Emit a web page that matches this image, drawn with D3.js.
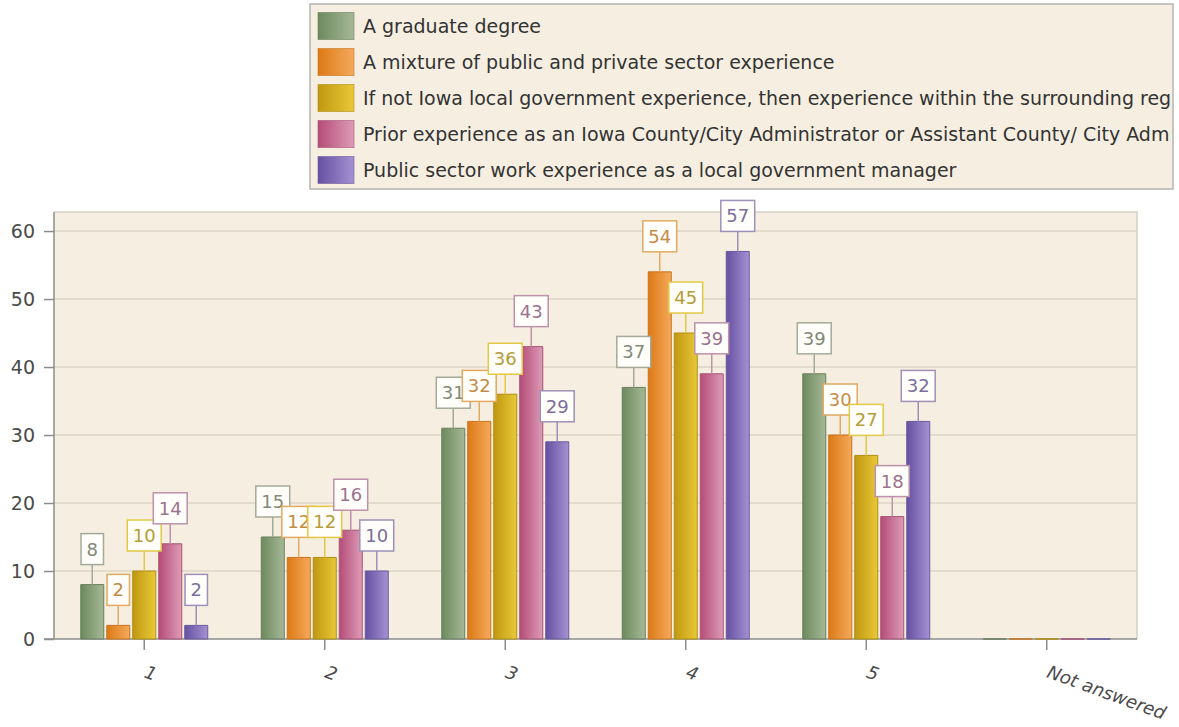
<!DOCTYPE html>
<html>
<head>
<meta charset="utf-8">
<script src="https://cdn.jsdelivr.net/npm/d3@7"></script>
<style>
  html, body { margin: 0; padding: 0; background: #ffffff; }
  svg { display: block; }
</style>
</head>
<body>
<script>
// Survey results: count of responses per rating, for each qualification
const categories = ["1", "2", "3", "4", "5", "Not answered"];
const seriesNames = [
  "A graduate degree",
  "A mixture of public and private sector experience",
  "If not Iowa local government experience, then experience within the surrounding region",
  "Prior experience as an Iowa County/City Administrator or Assistant County/ City Administrator",
  "Public sector work experience as a local government manager"
];
const graduateDegree      = [8, 15, 31, 37, 39, 0];
const mixedSectorExp      = [2, 12, 32, 54, 30, 0];
const regionalExp         = [10, 12, 36, 45, 27, 0];
const iowaAdministratorExp = [14, 16, 43, 39, 18, 0];
const managerExp          = [2, 10, 29, 57, 32, 0];
const yTicks = [0, 10, 20, 30, 40, 50, 60];

const seriesValues = [graduateDegree, mixedSectorExp, regionalExp, iowaAdministratorExp, managerExp];

// Palette: bar gradient (dark -> light), bar outline, label box border and label text
const palette = [
  { dark: "#6c8a5e", light: "#a6b897", stroke: "#6a7f5e", border: "#a3ab98", text: "#7f8a77" },
  { dark: "#dd7a16", light: "#f4a95c", stroke: "#c9741e", border: "#e2aa62", text: "#c48c48" },
  { dark: "#c09810", light: "#e8c838", stroke: "#b08e14", border: "#e2c844", text: "#b49c36" },
  { dark: "#b54c78", light: "#dd9cb6", stroke: "#a85276", border: "#bc92aa", text: "#9c728e" },
  { dark: "#6650a2", light: "#a392d2", stroke: "#6a5a9c", border: "#9e90b8", text: "#7a6e9c" }
];

const W = 1179, H = 727;
const plot = { left: 54, right: 1137, top: 212, bottom: 639 };

const svg = d3.select("body").append("svg")
  .attr("width", W).attr("height", H)
  .style("font-family", "'DejaVu Sans', Verdana, sans-serif");

const defs = svg.append("defs");
palette.forEach((p, i) => {
  const g = defs.append("linearGradient").attr("id", "bar-grad-" + i)
    .attr("x1", 0).attr("x2", 1).attr("y1", 0).attr("y2", 0);
  g.append("stop").attr("offset", "0%").attr("stop-color", p.dark);
  g.append("stop").attr("offset", "100%").attr("stop-color", p.light);
});

// Scales
const x = d3.scaleBand().domain(categories).range([plot.left, plot.right]).padding(0);
const groupWidth = 127;
const xInner = d3.scaleBand().domain(d3.range(seriesNames.length))
  .range([-groupWidth / 2, groupWidth / 2]).paddingInner(0.115).paddingOuter(0);
const y = d3.scaleLinear().domain([0, 62.8]).range([plot.bottom, plot.top]);

// Plot background
svg.append("rect")
  .attr("x", plot.left).attr("y", plot.top)
  .attr("width", plot.right - plot.left).attr("height", plot.bottom - plot.top)
  .attr("fill", "#f6efe1");

// Gridlines
svg.append("g").selectAll("line").data(yTicks.filter(t => t > 0)).join("line")
  .attr("x1", plot.left).attr("x2", plot.right)
  .attr("y1", d => y(d)).attr("y2", d => y(d))
  .attr("stroke", "#ddd6c6").attr("stroke-width", 1.5);

// Plot frame (top / right)
svg.append("path")
  .attr("d", `M${plot.left},${plot.top}H${plot.right}V${plot.bottom}`)
  .attr("fill", "none").attr("stroke", "#d6d0c4").attr("stroke-width", 1.5);

// Y axis
const yAxis = d3.axisLeft(y).tickValues(yTicks).tickSize(10).tickPadding(9);
const gy = svg.append("g").attr("transform", `translate(${plot.left},0)`).call(yAxis);
gy.select(".domain").attr("stroke", "#8c8c8c").attr("stroke-width", 1.5)
  .attr("d", `M0,${plot.top}V${plot.bottom}`);
gy.selectAll(".tick line").attr("stroke", "#8c8c8c").attr("stroke-width", 1.5);
gy.selectAll(".tick text")
  .attr("fill", "#4a4a4a").style("font-size", "19px")
  .style("font-family", "'DejaVu Sans', Verdana, sans-serif");

// X axis
const xAxis = d3.axisBottom(x).tickSize(11).tickFormat("");
const gx = svg.append("g").attr("transform", `translate(0,${plot.bottom})`).call(xAxis);
gx.select(".domain").attr("stroke", "#8c8c8c").attr("stroke-width", 1.5)
  .attr("d", `M${plot.left - 10},0H${plot.right}`);
gx.selectAll(".tick line").attr("stroke", "#8c8c8c").attr("stroke-width", 1.5);

// Rotated italic category labels
svg.append("g").selectAll("text").data(categories).join("text")
  .attr("transform", d => `translate(${x(d) + x.bandwidth() / 2 - 1},677) rotate(20)`)
  .attr("text-anchor", "start")
  .attr("fill", "#4a4a4a")
  .style("font-size", "18px")
  .style("font-style", "italic")
  .text(d => d);

// Bars
const bars = svg.append("g");
seriesValues.forEach((vals, si) => {
  bars.append("g").selectAll("path").data(vals.map((v, ci) => ({ v, c: categories[ci] }))).join("path")
    .attr("d", d => {
      const x0 = x(d.c) + x.bandwidth() / 2 + xInner(si);
      const w = xInner.bandwidth();
      return `M${x0},${y(0)}V${y(d.v)}H${x0 + w}V${y(0)}Z`;
    })
    .attr("fill", `url(#bar-grad-${si})`)
    .attr("stroke", palette[si].stroke)
    .attr("stroke-width", 1);
});

// Value labels: leader line + boxed value above each bar
const labels = svg.append("g").style("font-size", "18px");
seriesValues.forEach((vals, si) => {
  const p = palette[si];
  vals.forEach((v, ci) => {
    if (v === 0) return;
    const cx = x(categories[ci]) + x.bandwidth() / 2 + xInner(si) + xInner.bandwidth() / 2;
    const top = y(v);
    const g = labels.append("g");
    g.append("line")
      .attr("x1", cx).attr("x2", cx).attr("y1", top).attr("y2", top - 20)
      .attr("stroke", p.border).attr("stroke-width", 1.5);
    const t = g.append("text")
      .attr("x", cx).attr("y", top - 35.5)
      .attr("text-anchor", "middle").attr("dy", "0.36em")
      .attr("fill", p.text)
      .text(String(v));
    const tw = t.node().getComputedTextLength();
    const bw = tw + 11;
    g.insert("rect", "text")
      .attr("x", cx - bw / 2).attr("y", top - 51)
      .attr("width", bw).attr("height", 31)
      .attr("fill", "#fffefb")
      .attr("stroke", p.border).attr("stroke-width", 1.5);
  });
});

// Legend
const legend = { x: 310, y: 4, w: 863, h: 185 };
defs.append("clipPath").attr("id", "legend-clip")
  .append("rect").attr("x", legend.x).attr("y", legend.y)
  .attr("width", legend.w - 2).attr("height", legend.h);
const lg = svg.append("g");
lg.append("rect")
  .attr("x", legend.x).attr("y", legend.y).attr("width", legend.w).attr("height", legend.h)
  .attr("fill", "#f6efe1").attr("stroke", "#b4b4b4").attr("stroke-width", 1.5);
const items = lg.append("g").attr("clip-path", "url(#legend-clip)")
  .selectAll("g").data(seriesNames).join("g")
  .attr("transform", (d, i) => `translate(0,${26 + i * 36})`);
items.append("rect")
  .attr("x", 318).attr("y", -13.5).attr("width", 36).attr("height", 27)
  .attr("fill", (d, i) => `url(#bar-grad-${i})`)
  .attr("stroke", (d, i) => palette[i].stroke).attr("stroke-opacity", 0.6).attr("stroke-width", 1);
items.append("text")
  .attr("x", 363).attr("y", 7)
  .attr("fill", "#333333")
  .style("font-size", "19px")
  .text(d => d);
</script>
</body>
</html>
